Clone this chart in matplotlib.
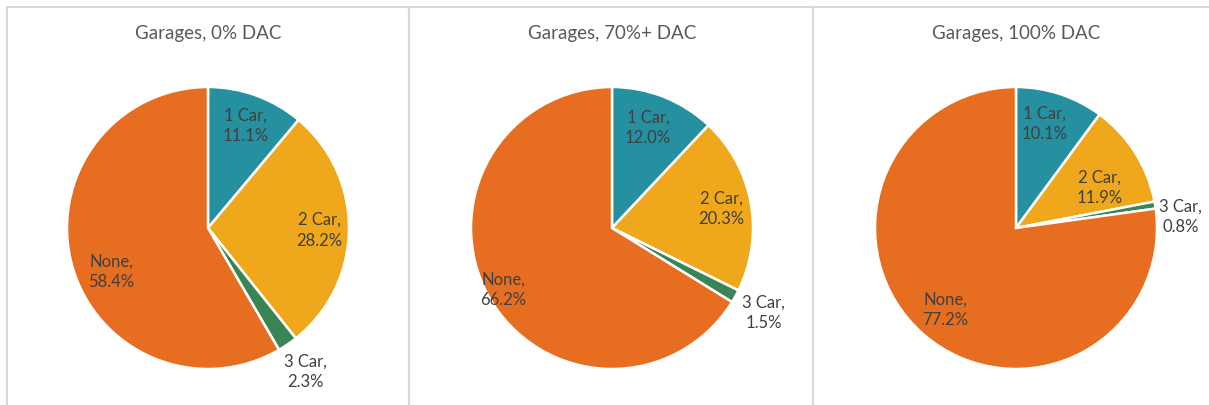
import numpy as np
import matplotlib
matplotlib.use("Agg")
import matplotlib.pyplot as plt
from matplotlib.patches import Rectangle

plt.rcParams['font.family'] = ['Lato', 'DejaVu Sans']

# data
categories = ["1 Car", "2 Car", "3 Car", "None"]
titles = ["Garages, 0% DAC", "Garages, 70%+ DAC", "Garages, 100% DAC"]
share_0 = [11.1, 28.2, 2.3, 58.4]
share_70 = [12.0, 20.3, 1.5, 66.2]
share_100 = [10.1, 11.9, 0.8, 77.2]
all_shares = [share_0, share_70, share_100]

colors = ["#2490a0", "#efa71b", "#3a8456", "#e76d20"]

# label placement: distance (fraction of radius) and angle tweak (deg) per slice
label_dist = [
    [0.78, 0.79, 1.23, 0.75],
    [0.76, 0.79, 1.23, 0.88],
    [0.77, 0.66, 1.17, 0.76],
]
label_turn = [
    [0, 0, 0, 9],
    [2, 0, 0, 0],
    [3, -6, -5, 0],
]

W, H = 1209, 406
fig = plt.figure(figsize=(W / 100, H / 100), dpi=100)

# panel frames
border = "#d9d9d9"
for x0, x1 in [(7, 409), (409, 813), (813, 1215)]:
    fig.patches.append(Rectangle((x0 / W, -0.1), (x1 - x0) / W, (H - 7.5) / H + 0.1,
                                 transform=fig.transFigure, fill=False,
                                 edgecolor=border, linewidth=1.5))

centers = [208, 612, 1016]
cy, r = 229, 141

for i, shares in enumerate(all_shares):
    cx = centers[i]
    ax = fig.add_axes([(cx - r) / W, (H - cy - r) / H, 2 * r / W, 2 * r / H])
    wedges, _ = ax.pie(shares, colors=colors, startangle=90, counterclock=False,
                       radius=1, wedgeprops=dict(edgecolor="white", linewidth=1.8))
    ax.set_xlim(-1, 1)
    ax.set_ylim(-1, 1)
    ax.set_aspect("equal")
    ax.axis("off")

    for j, w in enumerate(wedges):
        ang = np.deg2rad((w.theta1 + w.theta2) / 2 + label_turn[i][j])
        d = label_dist[i][j]
        ax.text(d * np.cos(ang), d * np.sin(ang),
                f"{categories[j]},\n{shares[j]:.1f}%",
                ha="center", va="center", fontsize=12, color="#404040",
                linespacing=1.35)

    fig.text(cx / W, (H - 33) / H, titles[i], ha="center", va="center",
             fontsize=13.5, color="#595959")

fig.savefig("out.png", dpi=100, facecolor="white")
